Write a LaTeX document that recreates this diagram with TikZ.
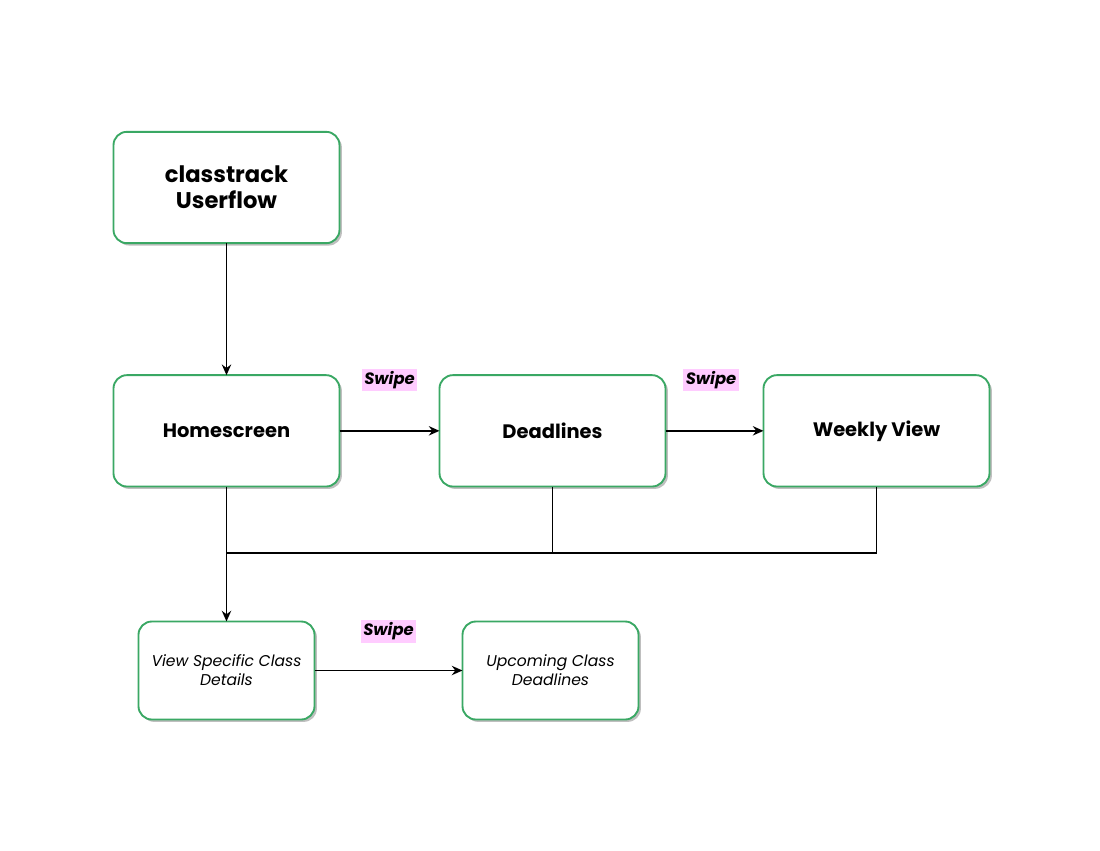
\documentclass[tikz,border=0pt]{standalone}
\usepackage{fontspec}
\setmainfont{Poppins}
\usepackage{xcolor}
\usepackage{tikz}
\usetikzlibrary{shapes,arrows,positioning,calc,shadows,arrows.meta}

\definecolor{screengreen}{HTML}{3AA864}
\definecolor{swipepink}{HTML}{FFCCFF}

\tikzset{
    screen/.style={draw=screengreen, line width=1.4pt, fill=white, rounded corners=10pt,
        align=center, inner sep=0pt, outer sep=0pt,
        drop shadow={shadow xshift=1.8pt, shadow yshift=-1.8pt, fill=black!25, opacity=1}},
    bigscreen/.style={screen, minimum width=169.5pt, minimum height=83.5pt, font=\bfseries\fontsize{14.6}{18}\selectfont},
    smallscreen/.style={screen, minimum width=132pt, minimum height=73.5pt, font=\itshape\fontsize{11.7}{14.25}\selectfont},
    swipetag/.style={fill=swipepink, inner sep=1.8pt, font=\bfseries\itshape\fontsize{12.3}{14}\selectfont},
    flow/.style={line width=1.4pt, -{Stealth[length=8pt,width=7pt]}},
    mergeline/.style={line width=1.4pt}
}

\begin{document}
\begin{tikzpicture}[auto, x=0.75pt, y=-0.75pt]
    \useasboundingbox (0,0) rectangle (1100,850);

    \node [bigscreen, font=\bfseries\fontsize{17}{19.5}\selectfont] (title) at (226.5,187.5) {classtrack\\Userflow};
    \node [bigscreen, below=99pt of title] (home) {Homescreen};
    \node [bigscreen, right=75pt of home] (dead) {Deadlines};
    \node [bigscreen, right=73.5pt of dead] (week) {Weekly View};
    \node [smallscreen, below=101.25pt of home] (view) {View Specific Class\\Details};
    \node [smallscreen, right=111pt of view] (upcoming) {Upcoming Class\\Deadlines};

    % swipe labels
    \node [swipetag] (swipeA) at ($(home.east)!0.5!(dead.west)+(0,-51)$) {Swipe};
    \node [swipetag] (swipeB) at ($(dead.east)!0.5!(week.west)+(-3.5,-51)$) {Swipe};
    \node [swipetag] (swipeC) at ($(view.east)!0.5!(upcoming.west)+(0,-39)$) {Swipe};

    \coordinate (merge) at ($(home.south)!0.49!(view.north)$);

    \draw [flow] (title) -- (home);
    \draw [flow] (home) -- (dead);
    \draw [flow] (dead) -- (week);
    \draw [flow] (home) -- (view);
    \draw [mergeline] (dead.south) |- (merge);
    \draw [mergeline] (week.south) |- (merge);
    \draw [flow] (view) -- (upcoming);
\end{tikzpicture}
\end{document}
